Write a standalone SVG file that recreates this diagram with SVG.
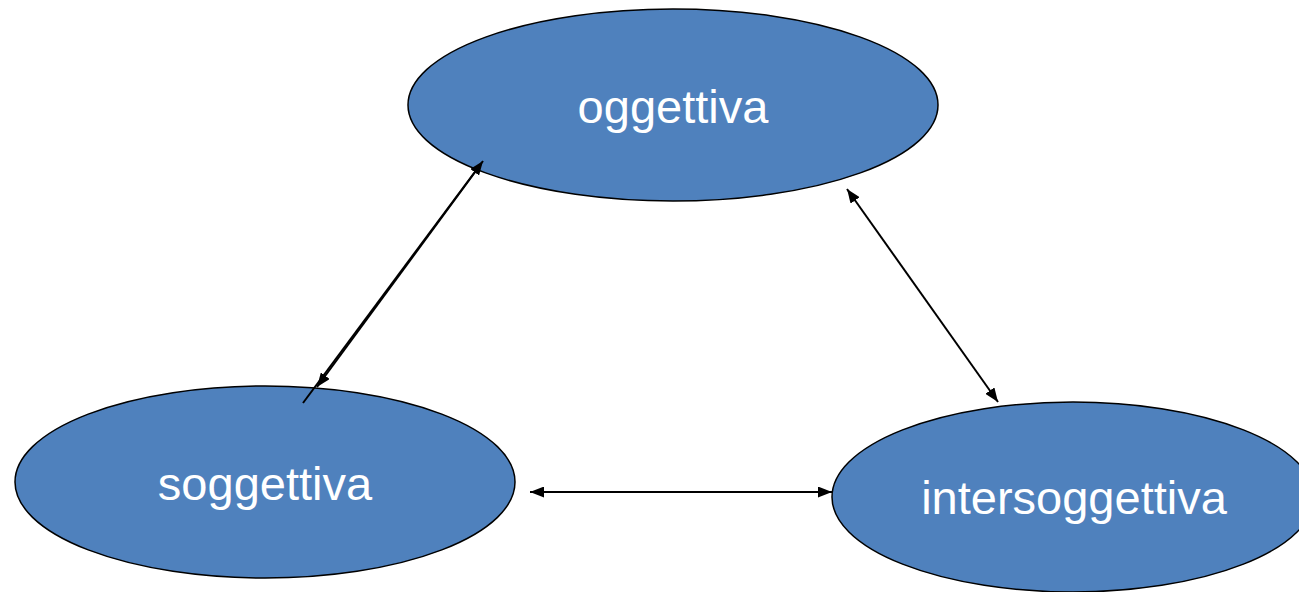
<svg xmlns="http://www.w3.org/2000/svg" width="1299" height="592" viewBox="0 0 1299 592">
<defs>
<style>
.node{fill:#4F81BD;stroke:#000;stroke-width:1.5}
.lbl{fill:#fff;font-family:"Liberation Sans",Arial,sans-serif;font-size:47px;text-anchor:middle}
.conn{stroke:#000;stroke-width:2;fill:none}
</style>
<marker id="ah" viewBox="0 0 10 10" refX="10" refY="5" markerWidth="14" markerHeight="11" markerUnits="userSpaceOnUse" orient="auto-start-reverse" preserveAspectRatio="none">
<path d="M0,0 L10,5 L0,10 z" fill="#000"/>
</marker>
</defs>
<rect width="1299" height="592" fill="#fff"/>
<g id="oggettiva"><ellipse class="node" cx="673" cy="105" rx="265" ry="96"/><text class="lbl" x="673" y="123">oggettiva</text></g>
<g id="soggettiva"><ellipse class="node" cx="265" cy="482" rx="250" ry="96"/><text class="lbl" x="265" y="500">soggettiva</text></g>
<g id="intersoggettiva"><ellipse class="node" cx="1073" cy="497" rx="241" ry="95"/><text class="lbl" x="1074" y="514">intersoggettiva</text></g>
<g id="connectors">
<line class="conn" x1="303" y1="403" x2="483" y2="161" marker-end="url(#ah)" stroke-width="1.5"/>
<line class="conn" x1="481" y1="164" x2="317" y2="387" marker-end="url(#ah)" stroke-width="1.5"/>
<line class="conn" x1="847" y1="189" x2="998" y2="402" marker-start="url(#ah)" marker-end="url(#ah)"/>
<line class="conn" x1="530" y1="492" x2="832" y2="492" marker-start="url(#ah)" marker-end="url(#ah)"/>
</g>
</svg>
